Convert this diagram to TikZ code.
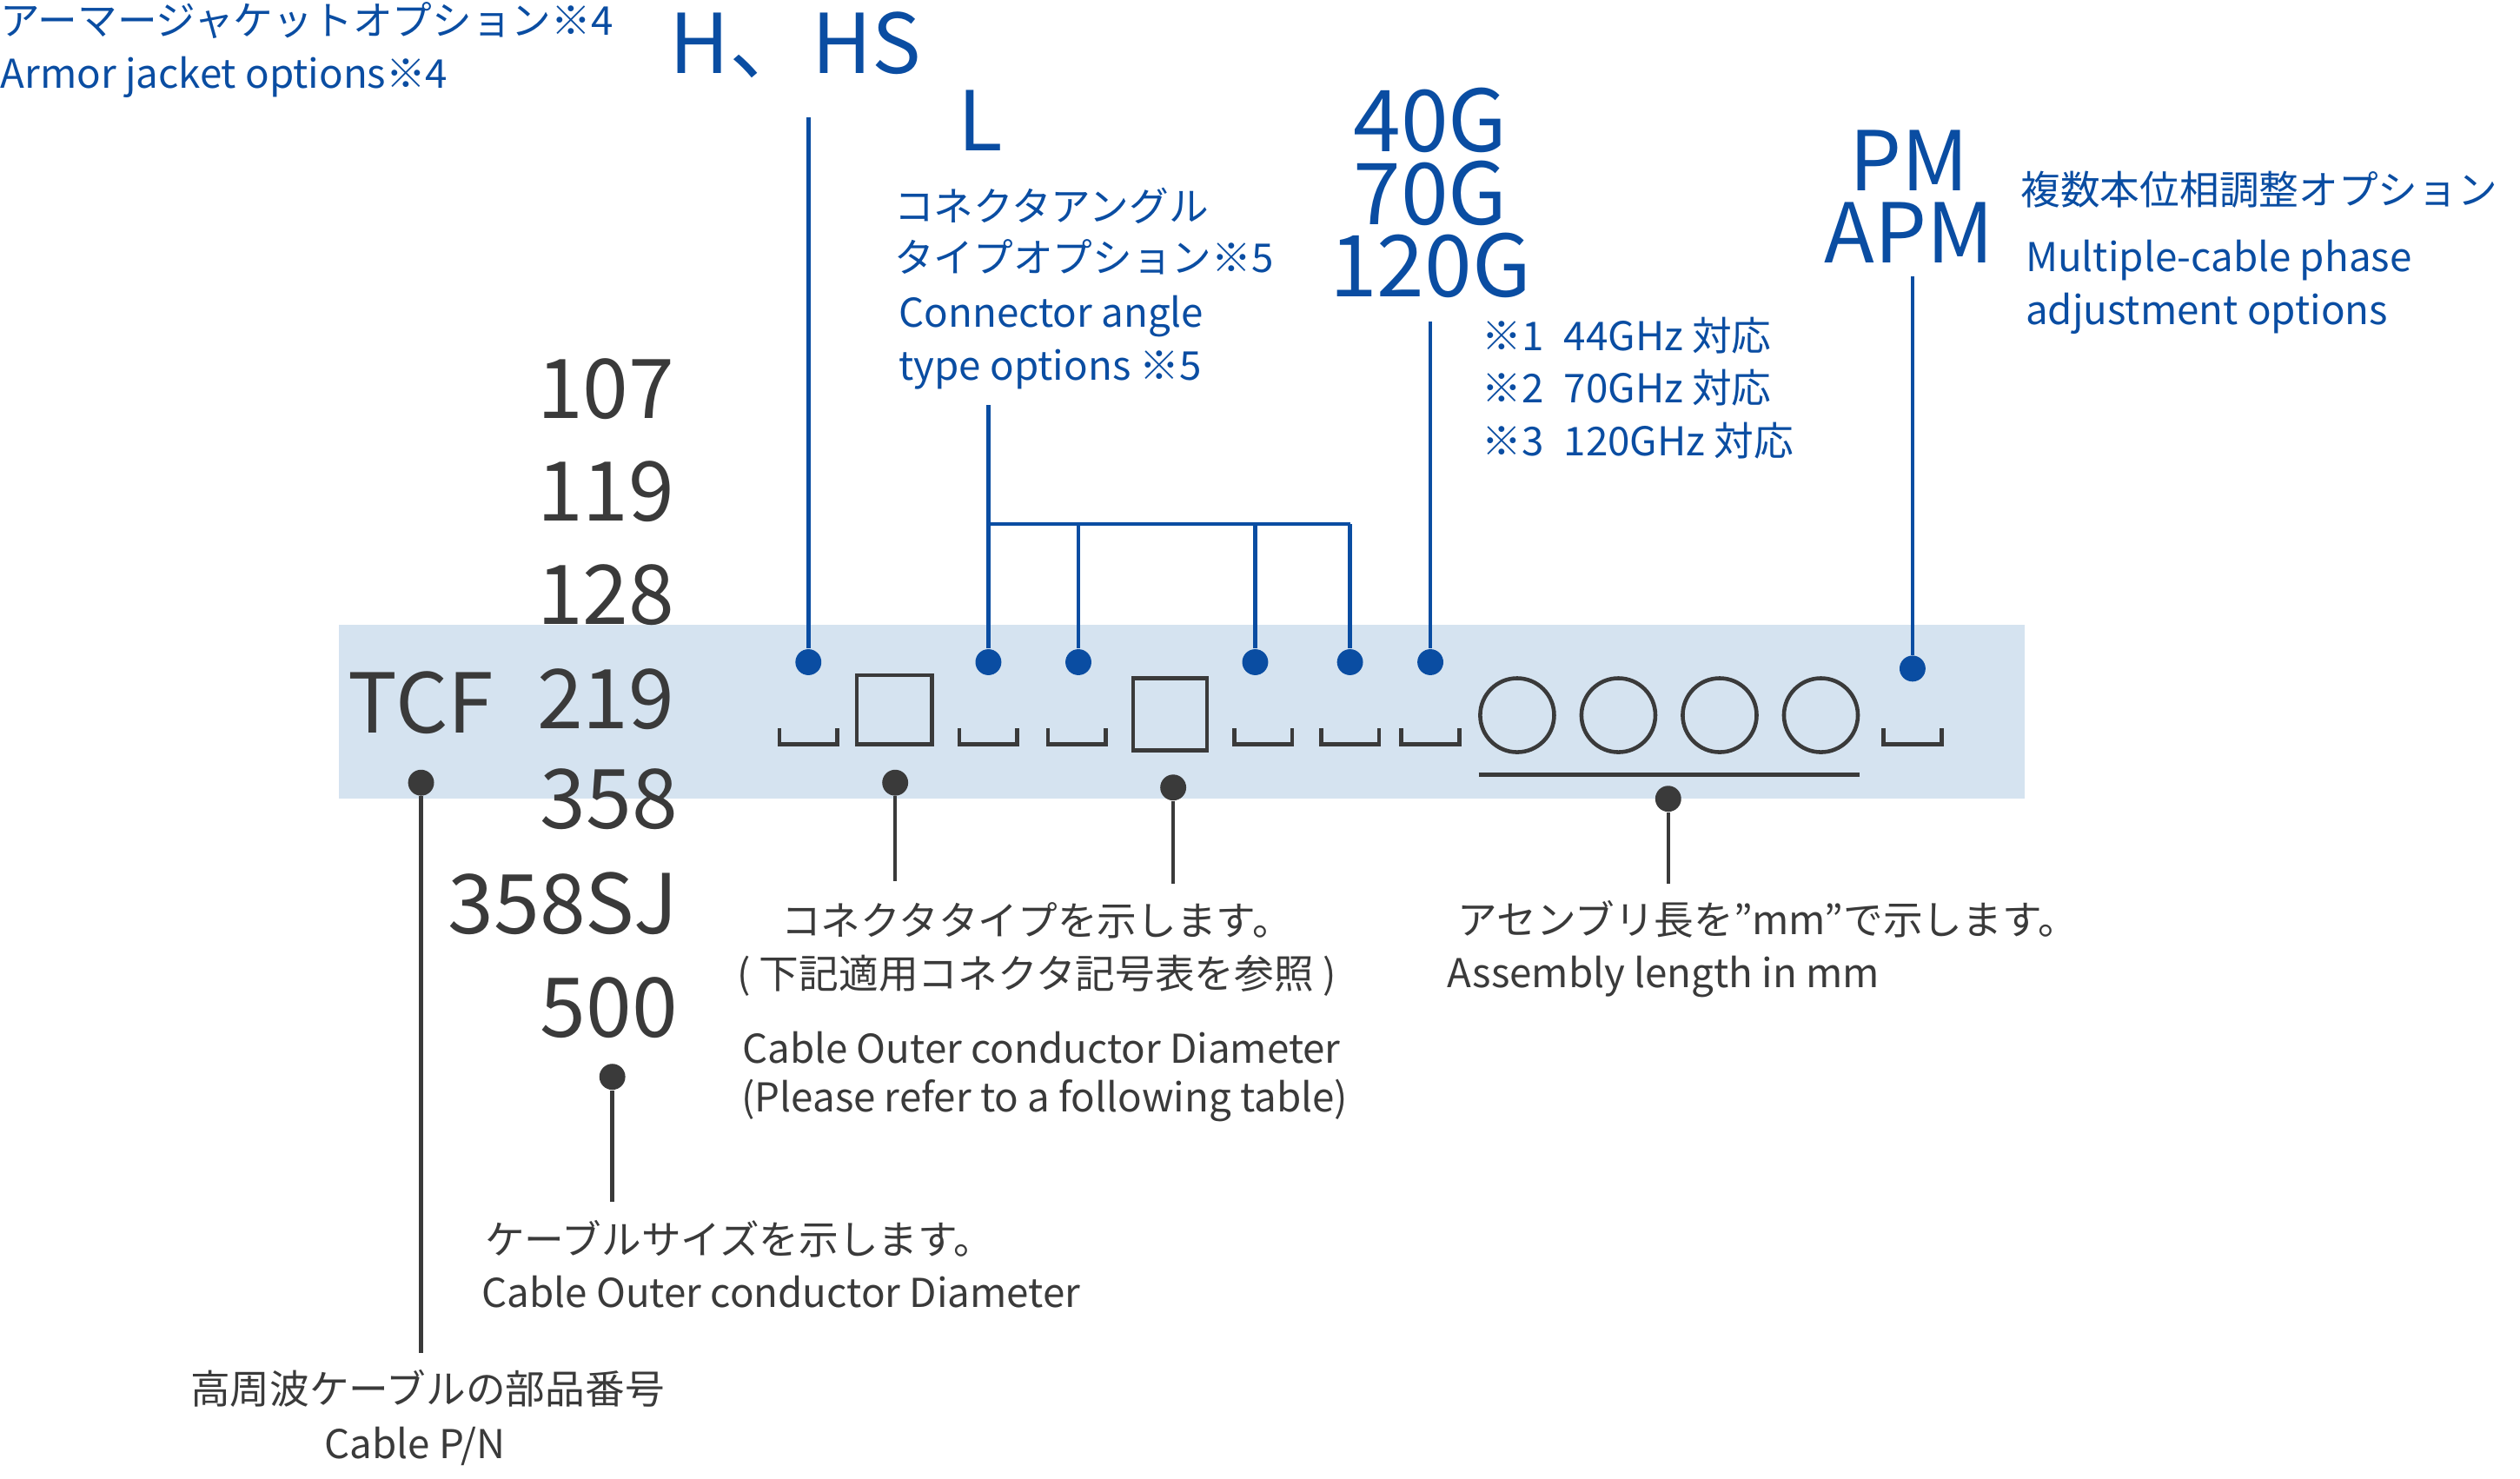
\documentclass[tikz,border=0pt]{standalone}
\usepackage{fontspec}
\setmainfont{Noto Sans CJK JP}
\definecolor{pnblue}{HTML}{0A4DA2}
\definecolor{pngray}{HTML}{3A3A3A}
\definecolor{pnbar}{HTML}{D5E3F0}
\begin{document}
\begin{tikzpicture}[x=0.0185cm,y=-0.0185cm]
% text styles
\tikzset{
	small/.style={inner sep=0pt,font=\fontsize{13}{15}\selectfont},
	btxt/.style={small,text=pnblue},
	gtxt/.style={small,text=pngray},
	bignum/.style={inner sep=0pt,text=pngray,font=\fontsize{27}{29}\selectfont,anchor=east},
	bigcode/.style={inner sep=0pt,text=pnblue,font=\fontsize{27}{29}\selectfont},
	bdot/.style={circle,fill=pnblue,inner sep=0pt,minimum size=8.5pt},
	gdot/.style={circle,fill=pngray,inner sep=0pt,minimum size=8.5pt},
	bline/.style={draw=pnblue,line width=1.3pt},
	gline/.style={draw=pngray,line width=1.3pt},
	slot/.style={draw=pngray,line width=1.3pt}
}
\useasboundingbox (0,0) rectangle (1568,920);
\fill[pnbar] (211,389) rectangle (1260,497);

% part number digits
\node[bignum,anchor=center] (tcf) at (262,437) {TCF};
\node[bignum] (n107) at (420,242) {107};
\node[bignum] (n119) at (420,306) {119};
\node[bignum] (n128) at (420,370) {128};
\node[bignum] (n219) at (420,435) {219};
\node[bignum] (n358) at (422,497) {358};
\node[bignum] (n358sj) at (422,562) {358SJ};
\node[bignum] (n500) at (422,627) {500};

% slots
\foreach \xa in {485,597,652,768,822,872,1172}
	\draw[slot] (\xa,453) -- (\xa,463) -- (\xa+36,463) -- (\xa+36,453);
\draw[slot] (533,420) rectangle (580,463);
\draw[slot] (705,422) rectangle (751,467);
\foreach \xc in {944,1007,1070,1133}
	\draw[slot] (\xc,445) circle (23);
\draw[slot] (920,482) -- (1157,482);

% blue dots
\node[bdot] (dh) at (503,412) {};
\node[bdot] (dl1) at (615,412) {};
\node[bdot] (dl2) at (671,412) {};
\node[bdot] (dl3) at (781,412) {};
\node[bdot] (dl4) at (840,412) {};
\node[bdot] (dg) at (890,412) {};
\node[bdot] (dpm) at (1190,416) {};

% gray dots
\node[gdot] (dtcf) at (262,487) {};
\node[gdot] (dcon1) at (557,487) {};
\node[gdot] (dcon2) at (730,490) {};
\node[gdot] (dlen) at (1038,497) {};
\node[gdot] (dsize) at (381,670) {};

% upper labels
\node[btxt,anchor=west] (armjp) at (0,13) {アーマージャケットオプション※4};
\node[btxt,anchor=west] (armen) at (0,48) {Armor jacket options※4};
\node[bigcode] (hhs) at (495,28) {H、HS};
\node[bigcode] (lab) at (610,75) {L};
\node[btxt,anchor=west] (angjp1) at (556,128) {コネクタアングル};
\node[btxt,anchor=west] (angjp2) at (556,160) {タイプオプション※5};
\node[btxt,anchor=west] (angen1) at (559,197) {Connector angle};
\node[btxt,anchor=west] (angen2) at (559,230) {type options ※5};
\node[bigcode,font=\fontsize{28}{30}\selectfont] (g40) at (890,75) {40G};
\node[bigcode,font=\fontsize{28}{30}\selectfont] (g70) at (890,120) {70G};
\node[bigcode,font=\fontsize{28}{30}\selectfont] (g120) at (890,165) {120G};
\node[btxt,anchor=west] (f1) at (922,209) {※1\enspace 44GHz 対応};
\node[btxt,anchor=west] (f2) at (922,241) {※2\enspace 70GHz 対応};
\node[btxt,anchor=west] (f3) at (922,274) {※3\enspace 120GHz 対応};
\node[bigcode] (pm) at (1188,100) {PM};
\node[bigcode] (apm) at (1188,145) {APM};
\node[btxt,anchor=west] (phjp) at (1257,118) {複数本位相調整オプション};
\node[btxt,anchor=west] (phen1) at (1260,162) {Multiple-cable phase};
\node[btxt,anchor=west] (phen2) at (1260,195) {adjustment options};

% lower labels
\node[gtxt] (conjp1) at (645,573) {コネクタタイプを示します。};
\node[gtxt] (conjp2) at (645,607) {( 下記適用コネクタ記号表を参照 )};
\node[gtxt] (conen1) at (648,652) {Cable Outer conductor Diameter};
\node[gtxt] (conen2) at (650,685) {(Please refer to a following table)};
\node[gtxt] (lenjp) at (1100,572) {アセンブリ長を”mm”で示します。};
\node[gtxt] (lenen) at (1035,608) {Assembly length in mm};
\node[gtxt] (sizejp) at (460,771) {ケーブルサイズを示します。};
\node[gtxt] (sizeen) at (486,804) {Cable Outer conductor Diameter};
\node[gtxt] (pnjp) at (266,864) {高周波ケーブルの部品番号};
\node[gtxt] (pnen) at (258,900) {Cable P/N};

% blue leaders
\coordinate (th) at (503,73);
\coordinate (tl) at (615,252);
\coordinate (tg) at (890,200);
\coordinate (tpm) at (1190,172);
\draw[bline] (th) -- (dh);
\draw[bline] (tl) -- (dl1);
\draw[bline] (dl1 |- 0,326) -- (dl4 |- 0,326);
\draw[bline] (dl2 |- 0,326) -- (dl2);
\draw[bline] (dl3 |- 0,326) -- (dl3);
\draw[bline] (dl4 |- 0,326) -- (dl4);
\draw[bline] (tg) -- (dg);
\draw[bline] (tpm) -- (dpm);

% gray leaders
\draw[gline] (dtcf) -- (262,842);
\draw[gline] (dcon1) -- (557,548);
\draw[gline] (dcon2) -- (730,550);
\draw[gline] (dlen) -- (1038,550);
\draw[gline] (dsize) -- (381,748);
\end{tikzpicture}
\end{document}
